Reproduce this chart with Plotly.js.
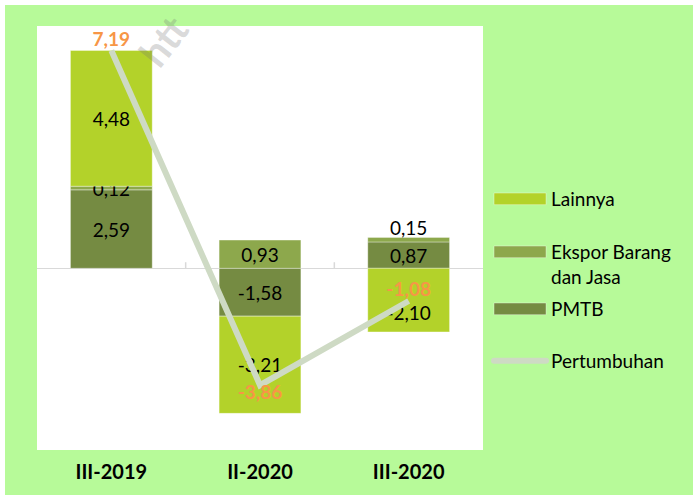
<!DOCTYPE html>
<html>
<head>
<meta charset="utf-8">
<script src="https://cdn.plot.ly/plotly-3.0.1.min.js"></script>
<style>
  html, body { margin: 0; padding: 0; background: #ffffff; width: 693px; height: 495px; overflow: hidden; }
  #chart { position: absolute; left: 5px; top: 5px; width: 688px; height: 490px; }
</style>
</head>
<body>
<div id="chart"></div>
<script>
// ---- data ----
const categories = ['III-2019', 'II-2020', 'III-2020'];
const pmtb = [2.59, -1.58, 0.87];
const ekspor = [0.12, 0.93, 0.15];
const lainnya = [4.48, -3.21, -2.10];
const pertumbuhan = [7.19, -3.86, -1.08];
const seriesNames = ['PMTB', 'Ekspor Barang<br>dan Jasa', 'Lainnya', 'Pertumbuhan'];
const watermarkText = 'htt';

// ---- style ----
const colors = { lainnya: '#b3d22a', ekspor: '#8da84c', pmtb: '#758b42', line: '#cedac4', label: '#f79646', bg: '#b7fa99' };
const FONT = 'Lato, "Open Sans", sans-serif';
// label placement tweaks (blank lines added below/above a bar label, per category)
const lainnyaLabelDrop = [0, 0, 1];
const eksporLabelRaise = [0, 0, 1];

const fmt = v => v.toFixed(2).replace('.', ',');

function barTrace(name, vals, color, legendId, text) {
  return {
    type: 'bar', name: name, x: categories, y: vals,
    marker: { color: color, line: { color: 'rgba(255,255,255,0.35)', width: 1 } },
    text: text, texttemplate: '%{text}',
    textposition: 'inside', insidetextanchor: 'middle',
    constraintext: 'none', textangle: 0,
    insidetextfont: { family: FONT, size: 19, color: '#000000' },
    legend: legendId, hoverinfo: 'skip', cliponaxis: false
  };
}

const pmtbText = pmtb.map(v => fmt(v));
const eksporText = ekspor.map((v, i) => fmt(v) + '<br>\u00a0'.repeat(eksporLabelRaise[i]));
const lainnyaText = lainnya.map((v, i) => '\u00a0<br>'.repeat(lainnyaLabelDrop[i]) + fmt(v));

const traces = [
  barTrace(seriesNames[0], pmtb, colors.pmtb, 'legend3', pmtbText),
  barTrace(seriesNames[1], ekspor, colors.ekspor, 'legend2', eksporText),
  barTrace(seriesNames[2], lainnya, colors.lainnya, 'legend', lainnyaText),
  {
    type: 'scatter', mode: 'lines+text', name: seriesNames[3], x: categories, y: pertumbuhan,
    line: { color: colors.line, width: 6 },
    texttemplate: '%{y:.2f}', textposition: ['top center', 'bottom center', 'top center'],
    textfont: { family: FONT, size: 19, color: colors.label, weight: 'bold' },
    legend: 'legend4', cliponaxis: false, hoverinfo: 'skip'
  }
];

function legendAt(y) {
  return {
    x: 1.0135, xanchor: 'left', y: y, yanchor: 'top',
    bgcolor: 'rgba(0,0,0,0)', borderwidth: 0,
    font: { family: FONT, size: 19, color: '#000000' },
    itemwidth: 52, valign: 'top'
  };
}

const layout = {
  width: 688, height: 490,
  paper_bgcolor: colors.bg, plot_bgcolor: '#ffffff',
  separators: ',.',
  margin: { l: 32, r: 210, t: 21, b: 45 },
  barmode: 'relative', bargap: 0.45,
  font: { family: FONT, color: '#000000' },
  showlegend: true,
  legend: legendAt(0.6368),
  legend2: legendAt(0.5118),
  legend3: legendAt(0.3774),
  legend4: legendAt(0.2547),
  xaxis: {
    type: 'category', range: [-0.5, 2.5], showgrid: false, zeroline: false, showline: false,
    ticks: '', ticklabelstandoff: 8,
    tickfont: { family: FONT, size: 20, color: '#000000', weight: 'bold' }, fixedrange: true
  },
  yaxis: {
    range: [-6, 8], showgrid: false, showticklabels: false, ticks: '', showline: false,
    zeroline: true, zerolinecolor: '#d9d9d9', zerolinewidth: 1.5, fixedrange: true
  },
  shapes: [0.5, 1.5].map(b => ({
    type: 'line', xref: 'x', yref: 'y', x0: b, x1: b, y0: 0, y1: 0.2,
    line: { color: '#d9d9d9', width: 1.5 }, layer: 'below'
  })),
  annotations: [{
    text: watermarkText, xref: 'paper', yref: 'paper', x: 0.2825, y: 0.9646,
    xanchor: 'center', yanchor: 'middle',
    showarrow: false, textangle: -52,
    font: { family: FONT, size: 40, weight: 'bold', color: 'rgba(110,110,110,0.26)' }
  }]
};

Plotly.newPlot('chart', traces, layout, { displayModeBar: false, staticPlot: true }).then(gd => {
  gd.querySelectorAll('.legendpoints path').forEach(p => {
    const d = p.getAttribute('d') || '';
    if (d.indexOf('H-6') >= 0 || d.indexOf('H6') >= 0) {
      const tr = p.getAttribute('transform') || '';
      const m = tr.match(/translate\(\s*([-\d.e]+)[\s,]*([-\d.e]*)\s*\)/);
      const ty = m && m[2] ? parseFloat(m[2]) : 0;
      p.setAttribute('d', 'M26,5.8H-26V-5.8H26Z');
      p.setAttribute('transform', 'translate(31,' + ty + ')');
    }
  });
  gd.querySelectorAll('.legendlines path').forEach(p => { p.style.strokeLinecap = 'round'; });
});
</script>
</body>
</html>
